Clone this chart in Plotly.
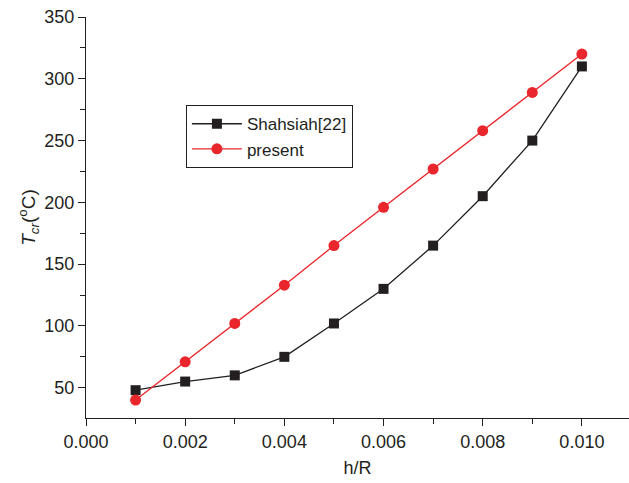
import plotly.graph_objects as go

h_over_R = [0.001, 0.002, 0.003, 0.004, 0.005, 0.006, 0.007, 0.008, 0.009, 0.010]
shahsiah = [48, 55, 60, 75, 102, 130, 165, 205, 250, 310]
present = [40, 71, 102, 133, 165, 196, 227, 258, 289, 320]

x_ticks = [0.000, 0.002, 0.004, 0.006, 0.008, 0.010]
x_ticklabels = ["0.000", "0.002", "0.004", "0.006", "0.008", "0.010"]
y_ticks = [50, 100, 150, 200, 250, 300, 350]

FONT = "Liberation Sans, Arial, sans-serif"

fig = go.Figure()
fig.add_trace(go.Scatter(
    x=h_over_R, y=shahsiah, mode="lines+markers", name="Shahsiah[22]",
    line=dict(color="#231f20", width=1.3),
    marker=dict(symbol="square", size=10, color="#231f20"),
))
fig.add_trace(go.Scatter(
    x=h_over_R, y=present, mode="lines+markers", name="present",
    line=dict(color="#e8262b", width=1.3),
    marker=dict(symbol="circle", size=11, color="#e8262b"),
))

fig.update_layout(
    width=629, height=483,
    margin=dict(l=86, r=0, t=17, b=65),
    paper_bgcolor="white", plot_bgcolor="white",
    font=dict(family=FONT, size=18, color="#231f20"),
    showlegend=True,
    legend=dict(
        x=0.184, y=0.78, xanchor="left", yanchor="top",
        bordercolor="#231f20", borderwidth=1, bgcolor="white",
        font=dict(size=17, family=FONT, color="#231f20"),
        itemwidth=50, tracegroupgap=0,
    ),
    xaxis=dict(
        range=[0, 0.01095], tickvals=x_ticks, ticktext=x_ticklabels,
        showgrid=False, zeroline=False, showline=True, linecolor="#231f20", linewidth=1,
        ticks="outside", ticklen=7, tickcolor="#231f20", tickwidth=1,
        tickfont=dict(size=18),
        minor=dict(dtick=0.001, tick0=0, ticks="outside", ticklen=5, tickcolor="#231f20", showgrid=False),
        title=dict(text="h/R", standoff=10, font=dict(size=18)),
    ),
    yaxis=dict(
        range=[25.5, 350], tickvals=y_ticks,
        showgrid=False, zeroline=False, showline=True, linecolor="#231f20", linewidth=1,
        ticks="outside", ticklen=7, tickcolor="#231f20", tickwidth=1,
        tickfont=dict(size=18),
        minor=dict(dtick=25, tick0=0, ticks="outside", ticklen=5, tickcolor="#231f20", showgrid=False),
        title=dict(text="<i>T<sub>cr</sub></i>(<sup>o</sup>C)", standoff=3, font=dict(size=19)),
    ),
)

fig.write_html("out.html")
